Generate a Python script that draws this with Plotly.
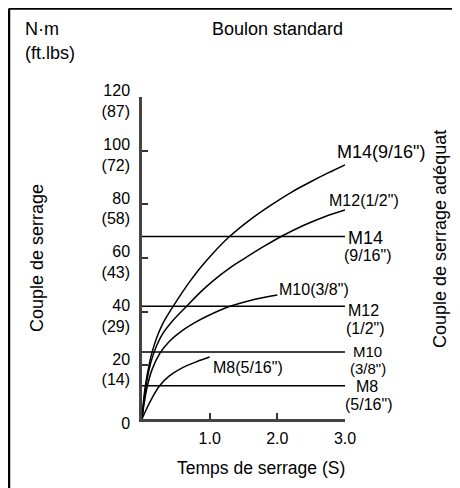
import plotly.graph_objects as go

# ---------------- data ----------------
tick_nm = [0, 20, 40, 60, 80, 100, 120]
tick_ftlbs = ["", "(14)", "(29)", "(43)", "(58)", "(72)", "(87)"]
time_ticks = [1.0, 2.0, 3.0]
time_tick_labels = ["1.0", "2.0", "3.0"]

m14_t = [0, 0.02, 0.05, 0.1, 0.15, 0.22, 0.3, 0.46, 0.6, 0.7, 0.86, 1.05, 1.29, 1.6, 1.9, 2.2, 2.5, 2.75, 3.0]
m14_v = [0, 6, 12.4, 19.5, 25, 30.5, 35.2, 42, 47.4, 51, 56.3, 61.8, 67.9, 74.3, 79.6, 84.4, 88.5, 91.7, 94.7]

m12_t = [0, 0.02, 0.06, 0.11, 0.18, 0.3, 0.45, 0.66, 0.86, 1.05, 1.3, 1.5, 1.8, 2.07, 2.4, 2.7, 3.0]
m12_v = [0, 5, 12.4, 19, 25, 31.5, 36.5, 42, 47.2, 51.5, 56.3, 59.6, 64.3, 68.2, 72.3, 75.4, 77.9]

m10_t = [0, 0.03, 0.08, 0.15, 0.27, 0.4, 0.61, 0.8, 0.96, 1.3, 1.6, 2.0]
m10_v = [0, 5.5, 12.4, 18.5, 24.7, 28.8, 33.2, 36.2, 38.3, 42, 44.2, 46.2]

m8_t = [0, 0.05, 0.12, 0.26, 0.4, 0.58, 0.8, 1.0]
m8_v = [0, 2.8, 6.5, 12.4, 16, 18.9, 21.3, 23.1]

bolt_names = ["M14", "M12", "M10", "M8"]
bolt_inch = ['(9/16")', '(1/2")', '(3/8")', '(5/16")']
adequate_torque = [68, 42, 25, 12.4]
line_t = [0, 3.0]

# ---------------- layout helpers ----------------
# The page body adds an 8px offset, so the figure is 8px smaller than the window
# and screen-pixel positions are converted to paper coordinates.
OFF = 8
W, H = 460 - OFF, 488 - OFF
L, R, T, B = 142, 345, 97, 419   # plot area in screen pixels


def px(xs):
    return (xs - L) / (R - L)


def py(ys):
    return (B - ys) / (B - T)


FONT = "Liberation Sans, Arial, sans-serif"
BLACK = "#000000"

fig = go.Figure()

curves = [(m14_t, m14_v), (m12_t, m12_v), (m10_t, m10_v), (m8_t, m8_v)]
for (t, v) in curves:
    fig.add_trace(go.Scatter(x=t, y=v, mode="lines",
                             line=dict(color=BLACK, width=1.5, shape="spline", smoothing=1.0),
                             hoverinfo="skip", showlegend=False))

for val in adequate_torque:
    fig.add_trace(go.Scatter(x=line_t, y=[val] * len(line_t), mode="lines",
                             line=dict(color=BLACK, width=1.5),
                             hoverinfo="skip", showlegend=False))

annotations = []

# curve end labels (screen-pixel centres)
end_label_pos = [(381, 152, 18), (363.5, 200, 16), (314, 289, 16), (248, 367, 16)]
for name, inch, (xs, ys, fs) in zip(bolt_names, bolt_inch, end_label_pos):
    annotations.append(dict(x=px(xs), y=py(ys), xref="paper", yref="paper", text=name + inch,
                            showarrow=False, xanchor="center", yanchor="middle",
                            font=dict(family=FONT, size=fs, color=BLACK)))

# right side labels for the horizontal lines
first_x = [365.5, 363, 367, 367]
second_x = [367, 365, 368, 368]
first_shift = [-1, -4, 0, -1]
second_shift = [-19, -22, -17, -19]
first_size = [18, 16, 15, 16]
second_size = [16, 16, 15, 16]
for name, inch, val, x1, x2, s1, s2, fs1, fs2 in zip(bolt_names, bolt_inch, adequate_torque,
                                                     first_x, second_x, first_shift,
                                                     second_shift, first_size, second_size):
    annotations.append(dict(x=px(x1), y=val, xref="paper", yref="y", text=name, showarrow=False,
                            xanchor="center", yanchor="middle", yshift=s1,
                            font=dict(family=FONT, size=fs1, color=BLACK)))
    annotations.append(dict(x=px(x2), y=val, xref="paper", yref="y", text=inch, showarrow=False,
                            xanchor="center", yanchor="middle", yshift=s2,
                            font=dict(family=FONT, size=fs2, color=BLACK)))

# titles and units
annotations += [
    dict(x=px(23), y=py(29), xref="paper", yref="paper", text="N·m", showarrow=False,
         xanchor="left", yanchor="middle", font=dict(family=FONT, size=18, color=BLACK)),
    dict(x=px(23), y=py(53), xref="paper", yref="paper", text="(ft.lbs)", showarrow=False,
         xanchor="left", yanchor="middle", font=dict(family=FONT, size=18, color=BLACK)),
    dict(x=px(277), y=py(29), xref="paper", yref="paper", text="Boulon standard", showarrow=False,
         xanchor="center", yanchor="middle", font=dict(family=FONT, size=18, color=BLACK)),
    dict(x=px(261), y=py(468), xref="paper", yref="paper", text="Temps de serrage (S)",
         showarrow=False, xanchor="center", yanchor="middle",
         font=dict(family=FONT, size=17.5, color=BLACK)),
    dict(x=px(37), y=py(258), xref="paper", yref="paper", text="Couple de serrage",
         showarrow=False, textangle=-90, xanchor="center", yanchor="middle",
         font=dict(family=FONT, size=18, color=BLACK)),
    dict(x=px(440), y=py(239), xref="paper", yref="paper", text="Couple de serrage adéquat",
         showarrow=False, textangle=-90, xanchor="center", yanchor="middle",
         font=dict(family=FONT, size=18, color=BLACK)),
]

# frame (top and left edges only)
shapes = [
    dict(type="line", xref="paper", yref="paper", x0=px(9), y0=py(8.5), x1=px(470), y1=py(8.5),
         line=dict(color=BLACK, width=2.5)),
    dict(type="line", xref="paper", yref="paper", x0=px(9), y0=py(8.5), x1=px(9), y1=py(500),
         line=dict(color=BLACK, width=2.5)),
]

y_ticktext = [f"{a}<br>{b}" if b else f"{a}" for a, b in zip(tick_nm, tick_ftlbs)]

fig.update_layout(
    width=W, height=H,
    margin=dict(l=L - OFF, r=W - (R - OFF), t=T - OFF, b=H - (B - OFF), pad=0),
    paper_bgcolor="white", plot_bgcolor="white",
    showlegend=False,
    annotations=annotations,
    shapes=shapes,
    font=dict(family=FONT, color=BLACK),
    xaxis=dict(range=[0, 3], tickvals=time_ticks, ticktext=time_tick_labels,
               ticks="inside", ticklen=6, tickwidth=1.5, tickcolor="#333",
               showline=True, linecolor="#444", linewidth=2.5, showgrid=False,
               zeroline=False, automargin=False, ticklabelstandoff=3,
               tickfont=dict(family=FONT, size=16, color=BLACK)),
    yaxis=dict(range=[0, 120], tickvals=tick_nm, ticktext=y_ticktext,
               ticks="inside", ticklen=6, tickwidth=1.5, tickcolor="#333",
               showline=True, linecolor="#444", linewidth=2.5, showgrid=False,
               zeroline=False, automargin=False, ticklabelstandoff=6, ticklabelshift=4,
               tickfont=dict(family=FONT, size=16, color=BLACK)),
)

fig.write_html("out.html")
